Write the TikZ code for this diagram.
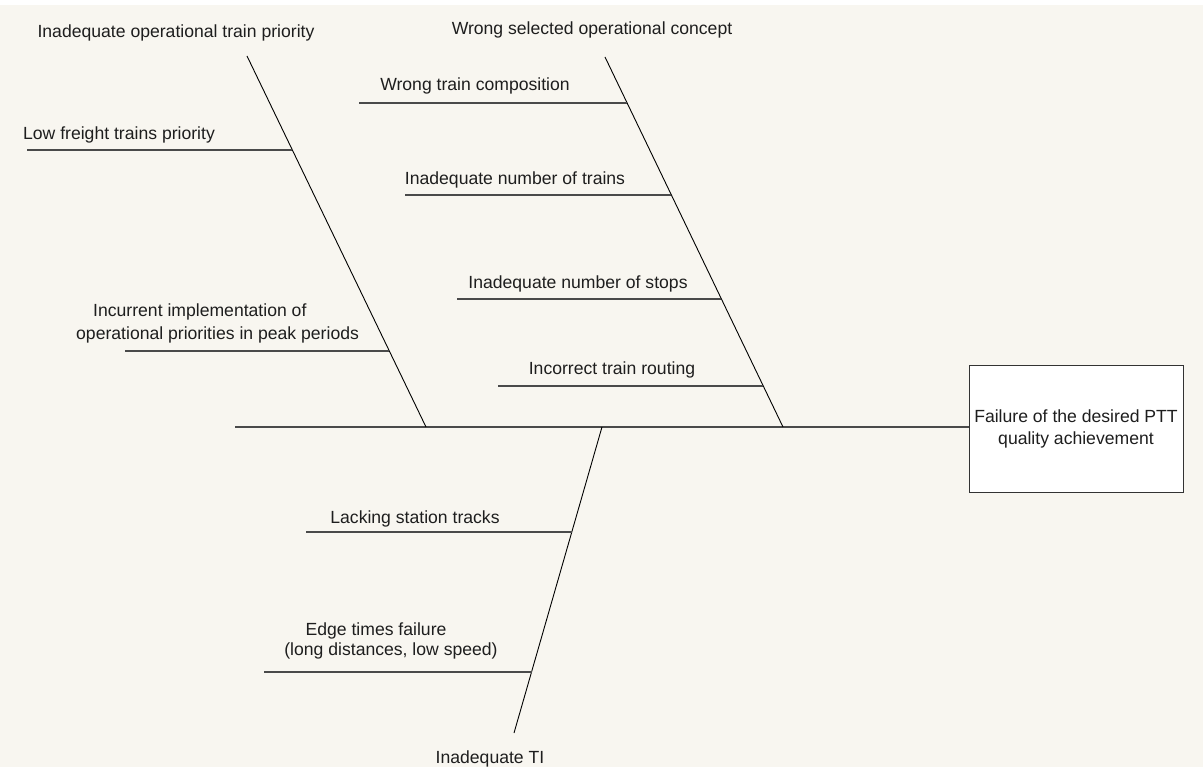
\documentclass[tikz,border=0pt]{standalone}
\usepackage{fontspec}
\setmainfont{Liberation Sans}
\usetikzlibrary{calc}
\definecolor{bgcol}{HTML}{F8F6F0}
\definecolor{ink}{HTML}{1E1E1E}
\definecolor{twigcol}{HTML}{4A4A4A}
\begin{document}
\begin{tikzpicture}[x=1pt,y=-1pt,
  lbl/.style={font=\fontsize{17.6}{22}\selectfont, text=ink, inner sep=0pt, anchor=base},
  lblw/.style={lbl, anchor=base west},
  bone/.style={draw=black, line width=0.9pt},
  twig/.style={draw=twigcol, line width=1.1pt},
  effbox/.style={draw=black!80, line width=1pt, fill=white, minimum width=214pt,
    minimum height=126pt, inner sep=0pt, align=center,
    font=\fontsize{17.6}{22}\selectfont, text=ink}]
\fill[bgcol] (0,0) rectangle (1203,767);
\fill[white] (0,0) rectangle (1203,5);
\useasboundingbox (0,0) rectangle (1203,767);

% effect box
\node[effbox] (eff) at (1076,429) {Failure of the desired PTT\\quality achievement};

% spine
\coordinate (spL) at (235,427);
\draw[twig] (spL) -- (spL -| eff.west);

% main bone labels
\node[lbl] (c1) at (176,38) {Inadequate operational train priority};
\node[lbl] (c2) at (592,35) {Wrong selected operational concept};
\node[lbl] (c3) at (490,763) {Inadequate TI};

% bones
\coordinate (b1t) at (247,56);  \coordinate (b1b) at (426,427);
\coordinate (b2t) at (605,57);  \coordinate (b2b) at (783,427);
\coordinate (b3t) at (602,427); \coordinate (b3b) at (514,733);
\draw[bone] (b1t) -- (b1b);
\draw[bone] (b2t) -- (b2b);
\draw[bone] (b3t) -- (b3b);

% sub-cause labels
\node[lbl] (s1) at (119,140) {Low freight trains priority};
\node[lblw] (s2a) at (93,317) {Incurrent implementation of};
\node[lblw] (s2b) at (76,340) {operational priorities in peak periods};
\node[lbl] (r1) at (475,91) {Wrong train composition};
\node[lbl] (r2) at (515,185) {Inadequate number of trains};
\node[lbl] (r3) at (578,289) {Inadequate number of stops};
\node[lbl] (r4) at (612,375) {Incorrect train routing};
\node[lbl] (d1) at (415,523) {Lacking station tracks};
\node[lbl] (d2a) at (376,635) {Edge times failure};
\node[lbl] (d2b) at (391,655) {(long distances, low speed)};

% branch end points on the bones
\coordinate (j1) at ($(b1t)!{(150-56)/371}!(b1b)$);
\coordinate (j2) at ($(b1t)!{(351-56)/371}!(b1b)$);
\coordinate (k1) at ($(b2t)!{(103-57)/370}!(b2b)$);
\coordinate (k2) at ($(b2t)!{(195-57)/370}!(b2b)$);
\coordinate (k3) at ($(b2t)!{(299-57)/370}!(b2b)$);
\coordinate (k4) at ($(b2t)!{(386-57)/370}!(b2b)$);
\coordinate (m1) at ($(b3t)!{(532-427)/306}!(b3b)$);
\coordinate (m2) at ($(b3t)!{(672-427)/306}!(b3b)$);

% branches
\draw[twig] (27,0 |- j1) -- (j1);
\draw[twig] (125,0 |- j2) -- (j2);
\draw[twig] (359,0 |- k1) -- (k1);
\draw[twig] (405,0 |- k2) -- (k2);
\draw[twig] (457,0 |- k3) -- (k3);
\draw[twig] (498,0 |- k4) -- (k4);
\draw[twig] (306,0 |- m1) -- (m1);
\draw[twig] (264,0 |- m2) -- (m2);
\end{tikzpicture}
\end{document}
